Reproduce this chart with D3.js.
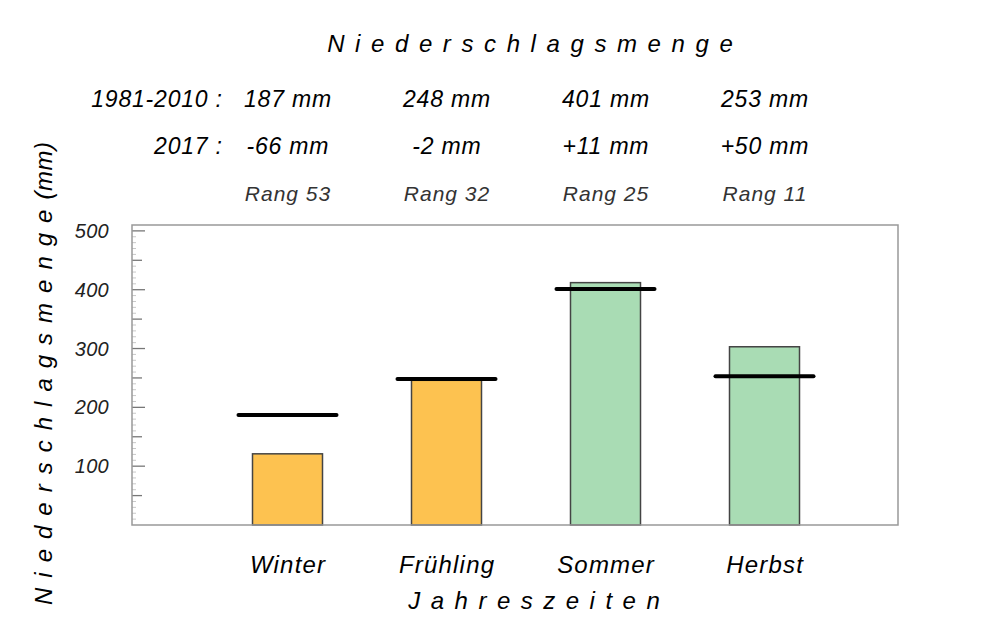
<!DOCTYPE html>
<html>
<head>
<meta charset="utf-8">
<script src="https://cdn.jsdelivr.net/npm/d3@7"></script>
<style>
  body { margin: 0; background: #fff; }
  text { font-family: "Liberation Sans", Arial, sans-serif; font-style: italic; fill: #000; }
</style>
</head>
<body>
<svg id="Canvas" width="1003" height="626"></svg>
<script>
// data
var seasons = ["Winter", "Frühling", "Sommer", "Herbst"];
var normal = [187, 248, 401, 253];        // 1981-2010 mean
var deviation = [-66, -2, 11, 50];        // 2017 vs mean
var precip2017 = [121, 246, 412, 303];    // bar heights
var ranks = [53, 32, 25, 11];
var yTicks = [100, 200, 300, 400, 500];

var svg = d3.select("#Canvas");

// note: "top" is taken by window.top, so plot edges get their own names
var plotLeft = 132, plotRight = 898, plotTop = 225, plotBottom = 525;

var x = d3.scaleBand().domain(seasons).range([208, 844]);
var y = d3.scaleLinear().domain([0, 510]).range([plotBottom, plotTop]);

var orange = "#fdc250", green = "#a9dcb4";
var barW = 70, refW = 98;

function cx(s) { return x(s) + x.bandwidth() / 2; }

// spaced text helper: letter-spacing adds a trailing gap, shift it back
function spaced(g, txt, px, py, size, ls, anchor) {
  return g.append("text")
    .attr("x", anchor == "middle" ? px + ls / 2 : (anchor == "end" ? px + ls : px))
    .attr("y", py)
    .attr("text-anchor", anchor)
    .style("font-size", size + "px")
    .style("letter-spacing", ls + "px")
    .text(txt);
}

// title
spaced(svg, "Niederschlagsmenge", 530, 52, 24, 10.6, "middle");

// header rows
spaced(svg, "1981-2010 :", 222, 107, 23, 0.8, "end");
spaced(svg, "2017 :", 222, 154, 23, 0.8, "end");
seasons.forEach(function (s, i) {
  spaced(svg, normal[i] + " mm", cx(s), 107, 23, 0.8, "middle");
  var d = deviation[i] > 0 ? "+" + deviation[i] : "" + deviation[i];
  spaced(svg, d + " mm", cx(s), 154, 23, 0.8, "middle");
  spaced(svg, "Rang " + ranks[i], cx(s), 201, 21, 1, "middle").style("fill", "#333");
});

// minor ticks every 10, half ticks every 50, major every 100
var minor = d3.range(10, 510, 10);
svg.selectAll(".tick")
  .data(minor)
  .enter()
  .append("line")
  .attr("x1", plotLeft)
  .attr("x2", function (d) { return plotLeft + (d % 100 == 0 ? 13 : (d % 50 == 0 ? 10 : 4)); })
  .attr("y1", function (d) { return y(d); })
  .attr("y2", function (d) { return y(d); })
  .style("stroke", function (d) { return d % 50 == 0 ? "#777" : "#c8c8c8"; })
  .style("stroke-width", function (d) { return d % 50 == 0 ? 1.3 : 1; });

svg.selectAll(".ylab")
  .data(yTicks)
  .enter()
  .append("text")
  .attr("x", 109)
  .attr("y", function (d) { return y(d) + 7; })
  .attr("text-anchor", "end")
  .style("font-size", "20px")
  .style("letter-spacing", "0.3px")
  .style("fill", "#222")
  .text(function (d) { return d; });

// bars
svg.selectAll(".bar")
  .data(seasons)
  .enter()
  .append("rect")
  .attr("x", function (s) { return cx(s) - barW / 2; })
  .attr("width", barW)
  .attr("y", function (s, i) { return y(precip2017[i]); })
  .attr("height", function (s, i) { return y(0) - y(precip2017[i]); })
  .style("fill", function (s, i) { return deviation[i] < 0 ? orange : green; })
  .style("stroke", "#444")
  .style("stroke-width", 1.5);

// box
svg.append("rect")
  .attr("x", plotLeft)
  .attr("y", plotTop)
  .attr("width", plotRight - plotLeft)
  .attr("height", plotBottom - plotTop)
  .style("fill", "none")
  .style("stroke", "#999")
  .style("stroke-width", 1.5);

// mean lines
svg.selectAll(".ref")
  .data(seasons)
  .enter()
  .append("line")
  .attr("x1", function (s) { return cx(s) - refW / 2; })
  .attr("x2", function (s) { return cx(s) + refW / 2; })
  .attr("y1", function (s, i) { return y(normal[i]); })
  .attr("y2", function (s, i) { return y(normal[i]); })
  .style("stroke", "#000")
  .style("stroke-width", 4)
  .style("stroke-linecap", "round");

// category labels
seasons.forEach(function (s) {
  spaced(svg, s, cx(s), 573, 24, 1.2, "middle");
});

// axis titles
spaced(svg, "Jahreszeiten", 534, 609, 24, 10.5, "middle");

var yl = svg.append("text")
  .attr("transform", "translate(52,605) rotate(-90)")
  .attr("text-anchor", "start")
  .style("font-size", "24px");
yl.append("tspan").style("letter-spacing", "10px").text("Niederschlagsmenge");
yl.append("tspan").style("letter-spacing", "0.5px").text("(mm)");
</script>
</body>
</html>
